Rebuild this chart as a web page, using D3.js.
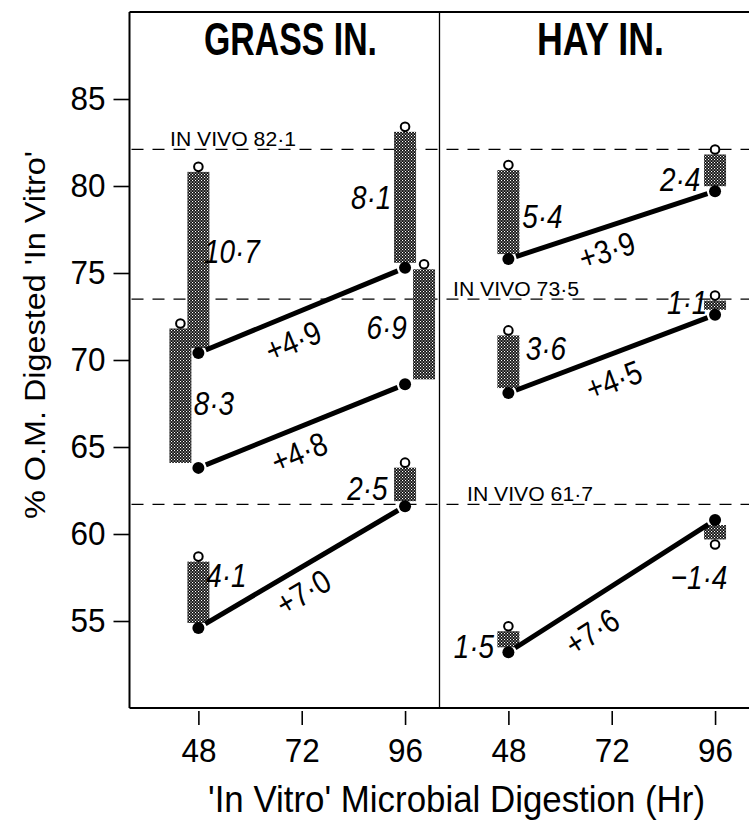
<!DOCTYPE html>
<html><head><meta charset="utf-8">
<script src="https://cdn.jsdelivr.net/npm/d3@7"></script>
<style>body{margin:0;background:#fff} svg{display:block}</style>
</head><body><svg id="chart" width="749" height="825"></svg>
<script>
// ---------- data ----------
const panelTitles = ["GRASS IN.", "HAY IN."];
const hourTicks = [48, 72, 96];
const yTickValues = [55, 60, 65, 70, 75, 80, 85];
const inVivoValues = [82.1, 73.5, 61.7];
const grassAt48 = [70.4, 63.8, 54.6];
const grassAt96 = [75.3, 68.6, 61.6];
const grassRise48 = [10.7, 8.3, 4.1];
const grassRise96 = [8.1, 6.9, 2.5];
const hayAt48 = [75.8, 68.1, 53.2];
const hayAt96 = [79.7, 72.6, 60.8];
const hayRise48 = [5.4, 3.6, 1.5];
const hayRise96 = [2.4, 1.1, -1.4];
const yLabel = "% O.M. Digested 'In Vitro'";
const xLabel = "'In Vitro' Microbial Digestion (Hr)";

// ---------- layout ----------
const FONT = "'Liberation Sans', Arial, sans-serif";
const left = 129.5, panelW = 310, right = 749.5, topY = 12, botY = 708;
const barShift = [[[0,0],[-18,19],[0,0]], [[0,0],[0,0],[0,0]]];
const barLabelOff = [
  [[[33.6,-9],[-34,-1]], [[33.6,7],[-37.4,2]], [[28,-18],[-37.6,3]]],
  [[[34,4],[-35,8]], [[37.6,-14],[-28,-3]], [[-34.4,6.7],[-16,44.7]]]
];
const lineLabelOff = [[[-8.7,30.6],[-2.7,26],[1.3,25]], [[-5,25],[2,26],[-20,45.5]]];
const inVivoLabelX = [170, 453, 467];

const svg = d3.select("#chart");
const y = d3.scaleLinear().domain([50, 90]).range([botY, topY]);
const xs = [0, 1].map(i => d3.scaleLinear().domain([32, 104]).range([left + i*panelW, left + (i+1)*panelW]));

const fmt = v => (v < 0 ? "\u2212" : "") + Math.abs(v).toFixed(1).replace(".", "\u00B7");
const squeeze = (sel, f) => sel.each(function() {
  const w = this.getComputedTextLength();
  d3.select(this).attr("textLength", w * f).attr("lengthAdjust", "spacingAndGlyphs");
});

// stipple pattern
const defs = svg.append("defs");
const pat = defs.append("pattern").attr("id","stip").attr("patternUnits","userSpaceOnUse").attr("width",3).attr("height",3);
pat.append("rect").attr("width",3).attr("height",3).attr("fill","#111");
pat.append("rect").attr("x",0).attr("y",0).attr("width",1.1).attr("height",1.1).attr("fill","#fff");
pat.append("rect").attr("x",1.5).attr("y",1.5).attr("width",1.1).attr("height",1.1).attr("fill","#eee");

// frame
const frame = svg.append("g").attr("stroke","#000").attr("fill","none");
frame.append("line").attr("x1",left).attr("x2",right).attr("y1",topY).attr("y2",topY).attr("stroke-width",2);
frame.append("line").attr("x1",left).attr("x2",left).attr("y1",topY).attr("y2",botY).attr("stroke-width",2);
frame.append("line").attr("x1",left).attr("x2",right).attr("y1",botY).attr("y2",botY).attr("stroke-width",2);
frame.append("line").attr("x1",left+panelW).attr("x2",left+panelW).attr("y1",topY).attr("y2",botY).attr("stroke-width",1.3);

// in vivo dashed lines
inVivoValues.forEach((v, i) => {
  svg.append("line").attr("x1",left+2).attr("x2",right).attr("y1",y(v)).attr("y2",y(v))
    .attr("stroke","#000").attr("stroke-width",1.3).attr("stroke-dasharray","12 9");
  svg.append("text").attr("x",inVivoLabelX[i]).attr("y",y(v)-3)
    .attr("font-family",FONT).attr("font-size",20).attr("textLength",126).attr("lengthAdjust","spacingAndGlyphs")
    .text("IN VIVO " + fmt(v));
});

const panelsData = [
  {at48: grassAt48, at96: grassAt96, r48: grassRise48, r96: grassRise96},
  {at48: hayAt48, at96: hayAt96, r48: hayRise48, r96: hayRise96}
];

panelsData.forEach((pd, p) => {
  const x = xs[p];
  const g = svg.append("g");
  pd.at48.forEach((_, k) => {
    const pts = [
      {hr: 48, v: pd.at48[k], d: pd.r48[k]},
      {hr: 96, v: pd.at96[k], d: pd.r96[k]}
    ];
    pts.forEach((pt, t) => {
      const bx = x(pt.hr) + barShift[p][k][t];
      const yv = y(pt.v), yt = y(pt.v + pt.d);
      const dir = pt.d >= 0 ? 1 : -1;
      const a = yt + dir*5, b = yv - dir*5;
      g.append("rect").attr("x", bx - 11).attr("width", 22)
        .attr("y", Math.min(a,b)).attr("height", Math.abs(b-a)).attr("fill","url(#stip)");
      g.append("circle").attr("cx", bx).attr("cy", yt).attr("r", 4.3)
        .attr("fill","#fff").attr("stroke","#000").attr("stroke-width",2);
      const off = barLabelOff[p][k][t];
      const tx = g.append("text").attr("x", bx + off[0]).attr("y", (yv+yt)/2 + off[1]).attr("dy","0.36em")
        .attr("text-anchor","middle").attr("font-family",FONT).attr("font-style","italic")
        .attr("font-size",34).text(fmt(pt.d));
      squeeze(tx, 0.82);
    });
    const x0 = x(48), y0 = y(pts[0].v), x1 = x(96), y1 = y(pts[1].v);
    const len = Math.hypot(x1-x0, y1-y0), ux = (x1-x0)/len, uy = (y1-y0)/len;
    g.append("line").attr("x1", x0 + ux*8).attr("y1", y0 + uy*8)
      .attr("x2", x1 - ux*8).attr("y2", y1 - uy*8)
      .attr("stroke","#000").attr("stroke-width",5);
    pts.forEach(pt => g.append("circle").attr("cx", x(pt.hr)).attr("cy", y(pt.v)).attr("r",6).attr("fill","#000"));
    const ang = Math.atan2(y1-y0, x1-x0) * 180 / Math.PI;
    const lo = lineLabelOff[p][k];
    const mx = (x0+x1)/2 + lo[0], my = (y0+y1)/2 + lo[1];
    const lt = g.append("text").attr("transform", `translate(${mx},${my}) rotate(${ang})`).attr("dy","0.36em")
      .attr("text-anchor","middle").attr("font-family",FONT).attr("font-size",33)
      .text("+" + fmt(pts[1].v - pts[0].v));
    squeeze(lt, 0.85);
  });
  svg.append("text").attr("x", left + p*panelW + panelW/2 + 6).attr("y", 55)
    .attr("text-anchor","middle").attr("font-family",FONT).attr("font-weight","bold").attr("font-size",46)
    .attr("textLength", p === 0 ? 173 : 127).attr("lengthAdjust","spacingAndGlyphs")
    .text(panelTitles[p]);
  const gx = svg.append("g").attr("transform","translate(0,711)")
    .call(d3.axisBottom(x).tickValues(hourTicks).tickSize(14).tickPadding(13).tickFormat(d3.format("d")));
  gx.select(".domain").remove();
  gx.selectAll("line").attr("stroke","#000").attr("stroke-width",1.6);
  gx.selectAll("text").attr("fill","#000").attr("font-family",FONT).attr("font-size",34)
    .attr("textLength",35).attr("lengthAdjust","spacingAndGlyphs");
});

const gy = svg.append("g").attr("transform",`translate(${left},0)`)
  .call(d3.axisLeft(y).tickValues(yTickValues).tickSize(16).tickPadding(8).tickFormat(d3.format("d")));
gy.select(".domain").remove();
gy.selectAll("line").attr("stroke","#000").attr("stroke-width",1.6);
gy.selectAll("text").attr("fill","#000").attr("font-family",FONT).attr("font-size",34)
  .attr("textLength",35).attr("lengthAdjust","spacingAndGlyphs");

svg.append("text").attr("transform","translate(45,335) rotate(-90)").attr("text-anchor","middle")
  .attr("font-family",FONT).attr("font-size",30).attr("textLength",368).attr("lengthAdjust","spacingAndGlyphs")
  .text(yLabel);
svg.append("text").attr("x",456.5).attr("y",812).attr("text-anchor","middle")
  .attr("font-family",FONT).attr("font-size",37).attr("textLength",497).attr("lengthAdjust","spacingAndGlyphs")
  .text(xLabel);
</script>
</body></html>
